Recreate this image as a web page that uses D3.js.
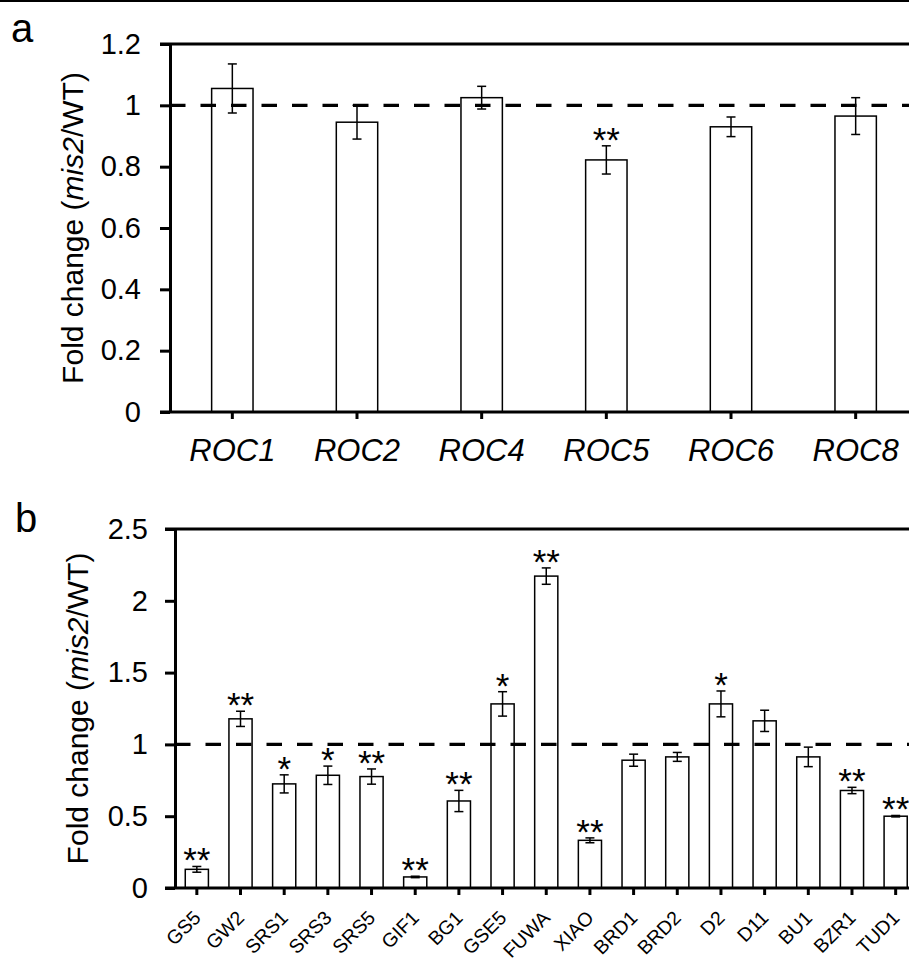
<!DOCTYPE html>
<html>
<head>
<meta charset="utf-8">
<script src="https://cdn.jsdelivr.net/npm/d3@7"></script>
<style>
  body { margin: 0; background: #fff; }
  svg { display: block; font-family: "Liberation Sans", Arial, sans-serif; }
</style>
</head>
<body>
<svg id="chart" width="909" height="965"></svg>
<script>
// panel a: ROC genes
var rocGenes = ["ROC1", "ROC2", "ROC4", "ROC5", "ROC6", "ROC8"];
var rocMeans = [1.055, 0.945, 1.025, 0.822, 0.930, 0.965];
var rocErr   = [0.080, 0.055, 0.037, 0.046, 0.032, 0.060];
var rocSig   = ["", "", "", "**", "", ""];
var rocTicks = [0, 0.2, 0.4, 0.6, 0.8, 1, 1.2];

// panel b: grain size genes
var grainGenes = ["GS5", "GW2", "SRS1", "SRS3", "SRS5", "GIF1", "BG1", "GSE5", "FUWA",
                  "XIAO", "BRD1", "BRD2", "D2", "D11", "BU1", "BZR1", "TUD1"];
var grainMeans = [0.130, 1.178, 0.725, 0.785, 0.776, 0.077, 0.606, 1.282, 2.172,
                  0.332, 0.890, 0.913, 1.282, 1.164, 0.913, 0.679, 0.500];
var grainErr   = [0.020, 0.053, 0.063, 0.064, 0.053, 0.005, 0.074, 0.085, 0.057,
                  0.017, 0.042, 0.031, 0.090, 0.074, 0.068, 0.022, 0.005];
var grainSig   = ["**", "**", "*", "*", "**", "**", "**", "*", "**",
                  "**", "", "", "*", "", "", "**", "**"];
var grainTicks = [0, 0.5, 1, 1.5, 2, 2.5];

var svg = d3.select("#chart");
var W = 909;
var FONT = "'Liberation Sans', Arial, sans-serif";

// thin rule along the top of the figure
svg.append("line")
  .attr("x1", 0).attr("x2", W).attr("y1", 1).attr("y2", 1)
  .attr("stroke", "#000").attr("stroke-width", 2);

function panel(opt) {
  var g = svg.append("g");

  var x = d3.scaleBand()
    .domain(opt.genes)
    .range([opt.left, opt.right])
    .paddingInner(opt.pad)
    .paddingOuter(opt.pad / 2);

  var y = d3.scaleLinear()
    .domain([0, opt.max])
    .range([opt.bottom, opt.top]);

  var cx = function(i){ return x(opt.genes[i]) + x.bandwidth() / 2 };

  // frame top line
  g.append("line")
    .attr("x1", opt.left - 10).attr("x2", W)
    .attr("y1", y(opt.max)).attr("y2", y(opt.max))
    .attr("stroke", "#000").attr("stroke-width", 3);

  // bars
  g.selectAll("rect.bar")
    .data(opt.means)
    .enter()
    .append("rect")
      .attr("class", "bar")
      .attr("x", function(d, i){ return x(opt.genes[i]) })
      .attr("y", function(d){ return y(d) })
      .attr("width", x.bandwidth())
      .attr("height", function(d){ return y(0) - y(d) })
      .attr("fill", "#fff")
      .attr("stroke", "#000")
      .attr("stroke-width", 1.5);

  // error bars
  var eb = g.selectAll("g.err")
    .data(opt.means)
    .enter()
    .append("g")
      .attr("class", "err")
      .attr("stroke", "#000")
      .attr("stroke-width", 1.5);
  eb.append("line")
    .attr("x1", function(d, i){ return cx(i) })
    .attr("x2", function(d, i){ return cx(i) })
    .attr("y1", function(d, i){ return y(d - opt.err[i]) })
    .attr("y2", function(d, i){ return y(d + opt.err[i]) });
  [-1, 1].forEach(function(s) {
    eb.append("line")
      .attr("x1", function(d, i){ return cx(i) - 4.5 })
      .attr("x2", function(d, i){ return cx(i) + 4.5 })
      .attr("y1", function(d, i){ return y(d + s * opt.err[i]) })
      .attr("y2", function(d, i){ return y(d + s * opt.err[i]) });
  });

  // significance stars
  g.selectAll("text.sig")
    .data(opt.means)
    .enter()
    .append("text")
      .attr("class", "sig")
      .attr("x", function(d, i){ return cx(i) })
      .attr("y", function(d, i){ return y(d + opt.err[i]) + 6 })
      .attr("text-anchor", "middle")
      .style("font-size", "35px")
      .text(function(d, i){ return opt.sig[i] });

  // reference line at 1
  g.append("line")
    .attr("x1", opt.left).attr("x2", W)
    .attr("y1", y(1)).attr("y2", y(1))
    .attr("stroke", "#000").attr("stroke-width", 3.2)
    .attr("stroke-dasharray", "15.5 15");

  // y axis
  var ya = g.append("g")
    .attr("transform", "translate(" + opt.left + ",0)")
    .call(d3.axisLeft(y).tickValues(opt.ticks).tickSize(10).tickSizeOuter(0).tickPadding(opt.tickPad)
      .tickFormat(d3.format("~g")));
  ya.select(".domain").attr("stroke-width", 3);
  ya.selectAll(".tick line").attr("stroke-width", 3);
  ya.selectAll(".tick text").attr("fill", "#000")
    .style("font-size", "29px").style("font-family", FONT);

  // x axis (ticks only, labels drawn below)
  var xa = g.append("g")
    .attr("transform", "translate(0," + opt.bottom + ")")
    .call(d3.axisBottom(x).tickSize(7).tickSizeOuter(0).tickFormat(""));
  xa.select(".domain").attr("d", "M" + (opt.left - 10) + ",0H" + W).attr("stroke-width", 3);
  xa.selectAll(".tick line").attr("stroke-width", 3);

  opt.xLabels(g, cx);

  // axis title
  var title = g.append("text")
    .attr("transform", "translate(" + opt.titleX + "," + ((opt.top + opt.bottom) / 2) + ") rotate(-90)")
    .attr("text-anchor", "middle")
    .style("font-size", "30px");
  title.append("tspan").text("Fold change (");
  title.append("tspan").style("font-style", "italic").text("mis2");
  title.append("tspan").text("/WT)");

  // panel letter
  g.append("text")
    .attr("x", opt.letterX).attr("y", opt.letterY)
    .style("font-size", "40px")
    .text(opt.letter);
}

panel({
  genes: rocGenes, means: rocMeans, err: rocErr, sig: rocSig, ticks: rocTicks,
  max: 1.2, left: 170, right: 918, top: 44, bottom: 412, pad: 0.668,
  tickPad: 19, titleX: 83, letter: "a", letterX: 11, letterY: 42,
  xLabels: function(g, cx) {
    g.selectAll("text.xl")
      .data(rocGenes)
      .enter()
      .append("text")
        .attr("class", "xl")
        .attr("x", function(d, i){ return cx(i) })
        .attr("y", 461)
        .attr("text-anchor", "middle")
        .style("font-size", "31px")
        .style("font-style", "italic")
        .text(function(d){ return d });
  }
});

panel({
  genes: grainGenes, means: grainMeans, err: grainErr, sig: grainSig, ticks: grainTicks,
  max: 2.5, left: 175, right: 917.5, top: 529, bottom: 888, pad: 0.47,
  tickPad: 17, titleX: 88, letter: "b", letterX: 15, letterY: 532,
  xLabels: function(g, cx) {
    // slanted labels, end of the baseline just below each tick
    g.selectAll("text.xl")
      .data(grainGenes)
      .enter()
      .append("text")
        .attr("class", "xl")
        .attr("transform", function(d, i){ return "translate(" + (cx(i) + 5) + ",919) rotate(-45)" })
        .attr("text-anchor", "end")
        .style("font-size", "19.5px")
        .text(function(d){ return d });
  }
});
</script>
</body>
</html>
